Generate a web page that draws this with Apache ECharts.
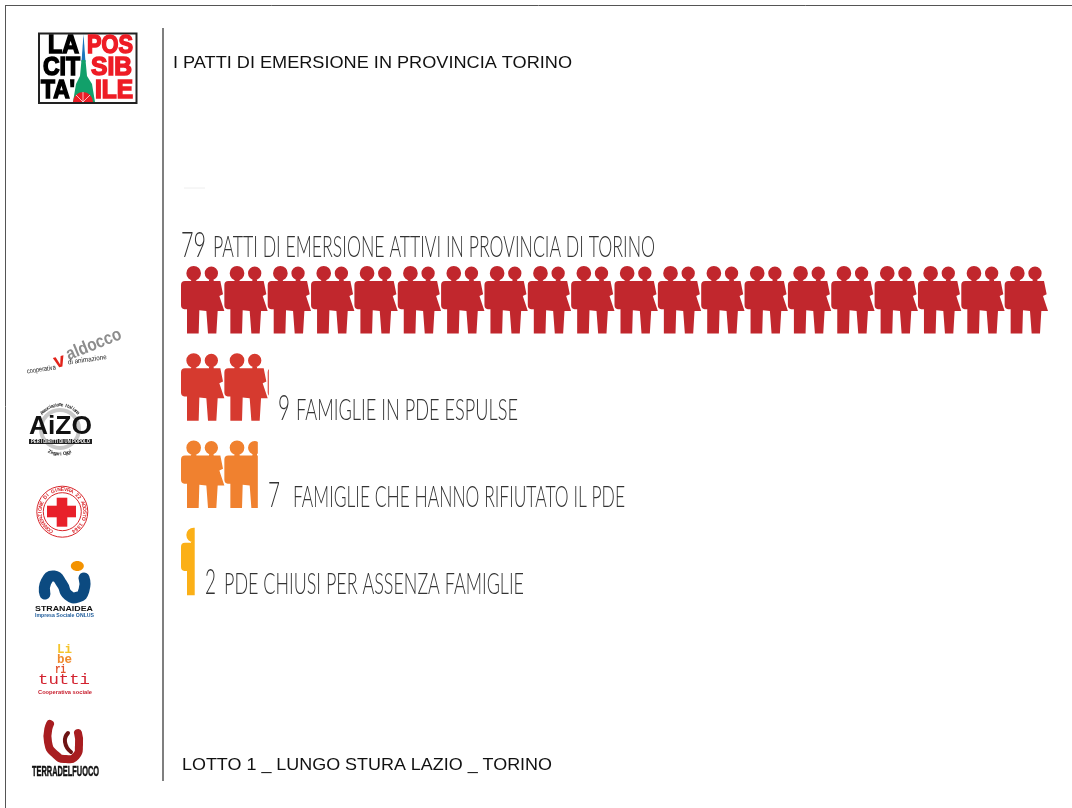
<!DOCTYPE html>
<html>
<head>
<meta charset="utf-8">
<style>
  html, body { margin: 0; padding: 0; background: #fff; }
  #chart { width: 1072px; height: 808px; }
</style>
<script src="https://cdn.jsdelivr.net/npm/echarts@6/dist/echarts.min.js"></script>
</head>
<body>
<div id="chart"></div>
<script>
var categories = ['Patti attivi', 'Espulse', 'Rifiuto', 'Chiusi']
// length of each row of figures as it is drawn in the picture
var drawnValues = [79, 8, 7, 1.25]
// numbers printed next to the rows
var rowNumbers = ['79', '9', '7', '2']
var rowCaptions = [
  'PATTI DI EMERSIONE ATTIVI IN PROVINCIA DI TORINO',
  'FAMIGLIE IN PDE ESPULSE',
  'FAMIGLIE CHE HANNO RIFIUTATO IL PDE',
  'PDE CHIUSI PER ASSENZA FAMIGLIE'
]
var rowColors = ['#c1272d', '#d63a2f', '#f0812f', '#fbb017']
var axisMax = 79
var titleText = 'I PATTI DI EMERSIONE IN PROVINCIA TORINO'
var footerText = 'LOTTO 1 _ LUNGO STURA LAZIO _ TORINO'

// a man and a woman side by side, repeated along each row
var pairPath = 'path://M16,22a22,22 0 1,1 44,0a22,22 0 1,1 -44,0Z' +
  'M71,22a20,20 0 1,1 40,0a20,20 0 1,1 -40,0Z' +
  'M30,38L46,38L46,48L30,48Z M84,38L98,38L98,48L84,48Z' +
  'M12,45L118,45L126,85L115,90L130,135L110,135L106,202L81,202L76,135L55,133L53,202L18,202L18,130L10,130Q0,128 0,118L0,57Q0,45 12,45Z'

var measureCtx = document.createElement('canvas').getContext('2d')

// text squeezed horizontally to an exact width, baseline roughly at y
function fitText (text, x, y, width, font, fill) {
  measureCtx.font = font
  var size = parseFloat(font.match(/([\d.]+)px/)[1])
  return {
    type: 'text',
    x: x,
    y: y - size * 0.35,
    scaleX: width / measureCtx.measureText(text).width,
    style: { text: text, font: font, fill: fill, align: 'left', verticalAlign: 'middle' }
  }
}

function plainLine (x1, y1, x2, y2, color, w) {
  return { type: 'line', shape: { x1: x1, y1: y1, x2: x2, y2: y2 }, style: { stroke: color, lineWidth: w } }
}

function curve (points, color, w) {
  return { type: 'polyline', shape: { points: points, smooth: 0.6 }, style: { fill: 'none', stroke: color, lineWidth: w, lineCap: 'round' } }
}

// letters placed one by one on a circle, angles in degrees clockwise from the top
function arcText (text, cx, cy, r, from, to, font, fill, inward) {
  var out = []
  for (var i = 0; i < text.length; i++) {
    var a = (from + (to - from) * i / (text.length - 1)) * Math.PI / 180
    out.push({
      type: 'text',
      x: cx + r * Math.sin(a),
      y: cy - r * Math.cos(a),
      rotation: inward ? -a : Math.PI - a,
      style: { text: text[i], font: font, fill: fill, align: 'center', verticalAlign: 'middle' }
    })
  }
  return out
}

var LABEL_FONT = '300 29px Lato, "Liberation Sans Narrow", "Liberation Sans"'
var NUMBER_FONT = '300 36px Lato, "Liberation Sans Narrow", "Liberation Sans"'
var LABEL_COLOR = '#333333'

var labelSpots = [
  { nx: 181, nw: 25, cx: 213, cw: 442, y: 258 },
  { nx: 278, nw: 12, cx: 296, cw: 222, y: 421 },
  { nx: 268, nw: 12, cx: 293, cw: 332, y: 508 },
  { nx: 205, nw: 11, cx: 224, cw: 300, y: 595 }
]

var graphics = [
  plainLine(5, 5.5, 1072, 5.5, '#555', 1),
  plainLine(5.5, 5, 5.5, 808, '#555', 1),
  plainLine(163, 28, 163, 781, '#555', 1.5),
  plainLine(184, 188, 205, 188, '#eeeeee', 1),
  fitText(titleText, 173, 69.5, 399, '16.5px "Liberation Sans"', '#111'),
  fitText(footerText, 182, 771, 370, '16.5px "Liberation Sans"', '#111')
]

rowCaptions.forEach(function (c, i) {
  var s = labelSpots[i]
  graphics.push(fitText(rowNumbers[i], s.nx, s.y, s.nw, NUMBER_FONT, LABEL_COLOR))
  graphics.push(fitText(c, s.cx, s.y, s.cw, LABEL_FONT, LABEL_COLOR))
})

// La citta' possibile logo
var HEAVY = '900 25px "Liberation Sans"'
graphics.push({ type: 'rect', shape: { x: 39, y: 33.5, width: 97.5, height: 69.5 }, style: { fill: '#fff', stroke: '#222', lineWidth: 2 } })
;[['LA', 48, 55, 31], ['CIT', 43, 77, 37], ['TA\'', 41, 100, 34]].forEach(function (t) {
  var el = fitText(t[0], t[1], t[2], t[3], HEAVY, '#000')
  el.style.stroke = '#000'
  el.style.lineWidth = 1.5
  graphics.push(el)
})
;[['POS', 87, 55, 46], ['SIB', 91, 77, 41], ['ILE', 95, 100, 38]].forEach(function (t) {
  var el = fitText(t[0], t[1], t[2], t[3], HEAVY, '#ee1c25')
  el.style.stroke = '#ee1c25'
  el.style.lineWidth = 1.5
  graphics.push(el)
})
graphics.push({ type: 'polygon', shape: { points: [[83.5, 34], [85.5, 62], [81.5, 62]] }, style: { fill: '#1c75bc' } })
graphics.push({ type: 'polygon', shape: { points: [[81.5, 60], [85.5, 60], [87, 76], [92, 84], [95, 102], [73, 102], [76, 84], [80, 76]] }, style: { fill: '#12a06a' } })
graphics.push({ type: 'sector', shape: { cx: 83, cy: 102, r: 10, startAngle: Math.PI, endAngle: 2 * Math.PI }, style: { fill: '#ee1c25' } })
graphics.push(plainLine(83, 102, 83, 92, '#fff', 0.7), plainLine(83, 102, 76, 95, '#fff', 0.7), plainLine(83, 102, 90, 95, '#fff', 0.7))

// valdocco logo
var vd = fitText('aldocco', 67, 362, 58, 'bold 18px "Liberation Sans"', '#8c8c8c')
vd.rotation = 22 * Math.PI / 180
graphics.push(vd)
graphics.push({ type: 'text', x: 54, y: 363, rotation: 15 * Math.PI / 180, style: { text: 'v', font: 'bold 20px "Liberation Sans"', fill: '#e2231a', verticalAlign: 'middle' } })
var vt1 = fitText('cooperativa', 27, 374, 29, '7px "Liberation Sans"', '#222')
vt1.rotation = 8 * Math.PI / 180
graphics.push(vt1)
var vt2 = fitText('di animazione', 68, 365, 39, '7px "Liberation Sans"', '#222')
vt2.rotation = 8 * Math.PI / 180
graphics.push(vt2)

// AIZO logo
graphics.push({ type: 'circle', shape: { cx: 60, cy: 429, r: 19 }, style: { fill: 'none', stroke: '#c8c8c8', lineWidth: 4 } })
graphics.push(fitText('AiZO', 29, 436, 63, 'bold 25px "Liberation Sans"', '#111'))
graphics.push({ type: 'rect', shape: { x: 29, y: 439, width: 63, height: 5 }, style: { fill: '#222' } })
graphics.push(fitText('PER I DIRITTI DI UN POPOLO', 31, 443.5, 59, 'bold 5px "Liberation Sans"', '#fff'))
graphics = graphics.concat(arcText('Associazione Italiana', 60, 429, 24, -48, 48, 'bold 5px "Liberation Sans"', '#333', true))
graphics = graphics.concat(arcText('Zingari Oggi', 60, 429, 25, 205, 155, 'bold 5px "Liberation Sans"', '#333', false))

// red cross logo
graphics.push({ type: 'circle', shape: { cx: 62.3, cy: 511.7, r: 25.5 }, style: { fill: '#fff', stroke: '#d9252a', lineWidth: 1 } })
graphics.push({ type: 'circle', shape: { cx: 62.3, cy: 511.7, r: 19 }, style: { fill: '#fff', stroke: '#d9252a', lineWidth: 1 } })
graphics = graphics.concat(arcText('CONVENZIONE DI GINEVRA 22 AGOSTO 1864', 62.3, 511.7, 22.2, -150, 150, 'bold 5px "Liberation Sans"', '#d9252a', true))
graphics.push({ type: 'rect', shape: { x: 47, y: 505.7, width: 29, height: 11.6 }, style: { fill: '#e8202a' } })
graphics.push({ type: 'rect', shape: { x: 56.7, y: 497.7, width: 10.6, height: 29 }, style: { fill: '#e8202a' } })

// stranaidea logo
graphics.push(curve([[45, 594], [46, 582], [54, 576], [62, 584], [68, 595], [78, 597], [84, 590], [84, 578]], '#0c4a80', 11))
graphics.push({ type: 'ellipse', shape: { cx: 77.3, cy: 566, rx: 6.5, ry: 5 }, style: { fill: '#f39200' } })
graphics.push(fitText('STRANAIDEA', 35, 612, 58, 'bold 8px "Liberation Sans"', '#111'))
graphics.push(fitText('Impresa Sociale ONLUS', 35, 617.5, 59, 'bold 5.5px "Liberation Sans"', '#1b5a9a'))

// liberi tutti logo
graphics.push(fitText('Li', 57, 654, 15, 'bold 12px "Liberation Mono"', '#f5c52c'))
graphics.push(fitText('be', 57, 664.5, 15, 'bold 12px "Liberation Mono"', '#f08a2c'))
graphics.push(fitText('ri', 55, 674, 11, 'bold 12px "Liberation Mono"', '#e2522d'))
graphics.push(fitText('tutti', 38, 685, 52, '14px "Liberation Mono"', '#d3222f'))
graphics.push(fitText('Cooperativa sociale', 38, 694, 54, 'bold 6px "Liberation Sans"', '#c8202f'))

// terra del fuoco logo
graphics.push(curve([[50, 724], [48, 742], [56, 755], [66, 759], [76, 756], [79, 745], [78, 733]], '#a81d20', 8))
graphics.push(curve([[68, 733], [65, 742], [71, 752]], '#6d1414', 4))
var tf = fitText('TERRADELFUOCO', 32, 777, 67, 'bold 15px "Liberation Sans Narrow", "Liberation Sans"', '#111')
tf.style.stroke = '#111'
tf.style.lineWidth = 0.5
graphics.push(tf)

var myChart = echarts.init(document.getElementById('chart'), null, { renderer: 'canvas' })
myChart.setOption({
  animation: false,
  backgroundColor: '#fff',
  grid: { left: 181, top: 256, width: 867, height: 349 },
  xAxis: { type: 'value', min: 0, max: axisMax, show: false },
  yAxis: { type: 'category', data: categories, inverse: true, show: false },
  graphic: { elements: graphics },
  series: [{
    type: 'pictorialBar',
    symbol: pairPath,
    symbolRepeat: true,
    symbolClip: true,
    symbolMargin: 0,
    symbolSize: [43.35, 67.5],
    symbolBoundingData: axisMax,
    data: drawnValues.map(function (v, i) {
      return { value: v, itemStyle: { color: rowColors[i] } }
    })
  }]
})
</script>
</body>
</html>
